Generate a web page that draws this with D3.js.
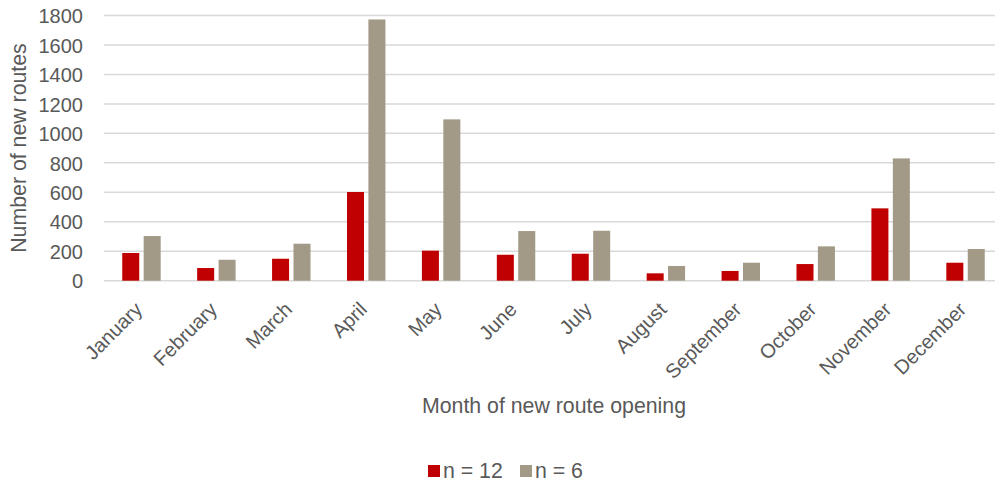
<!DOCTYPE html>
<html>
<head>
<meta charset="utf-8">
<script src="https://cdnjs.cloudflare.com/ajax/libs/d3/7.8.5/d3.min.js"></script>
<style>
  body { margin: 0; background: #fff; overflow: hidden; }
  svg text { font-family: "Liberation Sans", Arial, sans-serif; fill: #595959; }
</style>
</head>
<body>
<svg id="chart" width="995" height="485"></svg>
<script>
// months on the x axis
const months = ['January', 'February', 'March', 'April', 'May', 'June',
  'July', 'August', 'September', 'October', 'November', 'December']
// series
const n12 = [188, 86, 149, 602, 204, 176, 183, 50, 66, 113, 491, 122]
const n6 = [303, 142, 251, 1773, 1095, 337, 339, 100, 122, 233, 830, 215]
const seriesNames = ['n = 12', 'n = 6']
const colors = ['#c00000', '#a29a86']
const yTicks = [0, 200, 400, 600, 800, 1000, 1200, 1400, 1600, 1800]

const rows = months.map((m, i) => ({ month: m, values: [n12[i], n6[i]] }))

const svg = d3.select('#chart')
// plot area runs a little past the right edge of the picture
const plotLeft = 104, plotRight = 1003, plotTop = 15.5, plotBottom = 280.7

const x0 = d3.scaleBand().domain(months).range([plotLeft, plotRight])
  .paddingInner(0.487).paddingOuter(0.2435)
const x1 = d3.scaleBand().domain([0, 1]).range([0, x0.bandwidth()]).paddingInner(0.206)
const y = d3.scaleLinear().domain([0, 1800]).range([plotBottom, plotTop])

// gridlines
svg.append('g').selectAll('line').data(yTicks).join('line')
  .attr('x1', plotLeft).attr('x2', plotRight)
  .attr('y1', d => y(d)).attr('y2', d => y(d))
  .attr('stroke', '#d9d9d9').attr('stroke-width', 1.5)

// y axis labels
const yAxis = svg.append('g').attr('transform', `translate(${plotLeft - 21},0)`)
  .call(d3.axisLeft(y).tickValues(yTicks).tickFormat(d3.format('d')).tickSize(0).tickPadding(0))
yAxis.select('.domain').remove()
yAxis.selectAll('text').attr('font-size', 20).attr('dy', '0.36em')
  .attr('font-family', '"Liberation Sans", Arial, sans-serif').attr('fill', '#595959')

// bars
svg.append('g').selectAll('g').data(rows).join('g')
  .attr('transform', d => `translate(${x0(d.month)},0)`)
  .selectAll('rect').data(d => d.values.map((v, k) => ({ k, v }))).join('rect')
  .attr('x', d => x1(d.k))
  .attr('width', x1.bandwidth())
  .attr('y', d => y(d.v))
  .attr('height', d => y(0) - y(d.v))
  .attr('fill', d => colors[d.k])

// x axis labels, rotated
const xAxis = svg.append('g').attr('transform', `translate(0,${plotBottom})`)
  .call(d3.axisBottom(x0).tickSize(0).tickPadding(0))
xAxis.select('.domain').remove()
xAxis.selectAll('text')
  .attr('font-size', 20)
  .attr('font-family', '"Liberation Sans", Arial, sans-serif').attr('fill', '#595959')
  .attr('text-anchor', 'end')
  .attr('dy', null).attr('y', 0)
  .attr('transform', 'translate(2,30) rotate(-45)')

// axis titles
svg.append('text')
  .attr('transform', `translate(26,148) rotate(-90)`)
  .attr('text-anchor', 'middle').attr('font-size', 21.3)
  .text('Number of new routes')

svg.append('text')
  .attr('x', 554).attr('y', 413)
  .attr('text-anchor', 'middle').attr('font-size', 21.3)
  .text('Month of new route opening')

// legend
const legend = svg.append('g').attr('transform', 'translate(428,465)')
const items = legend.selectAll('g').data(seriesNames).join('g')
  .attr('transform', (d, i) => `translate(${i * 92},0)`)
items.append('rect').attr('width', 12).attr('height', 12).attr('fill', (d, i) => colors[i])
items.append('text').attr('x', 15).attr('y', 13.3).attr('font-size', 21.3).text(d => d)
</script>
</body>
</html>
